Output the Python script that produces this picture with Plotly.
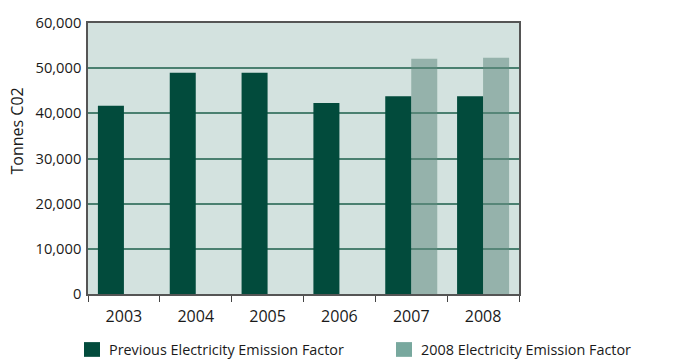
import plotly.graph_objects as go

# Chart data
years = ["2003", "2004", "2005", "2006", "2007", "2008"]
series_names = ["Previous Electricity Emission Factor", "2008 Electricity Emission Factor"]
previous_factor = [41700, 49000, 49000, 42300, 43800, 43800]
factor_2008 = [None, None, None, None, 52100, 52300]
y_ticks = [0, 10000, 20000, 30000, 40000, 50000, 60000]

DARK = "#024b3c"
LIGHT_BAR = "rgba(98,139,128,0.55)"
LIGHT_KEY = "#78a89e"
FONT = "Open Sans"

fig = go.Figure()
fig.add_trace(go.Bar(x=years, y=previous_factor, name=series_names[0],
                     marker=dict(color=DARK, line=dict(width=0)), showlegend=False))
fig.add_trace(go.Bar(x=years, y=factor_2008, name=series_names[1],
                     marker=dict(color=LIGHT_BAR, line=dict(width=0)), showlegend=False))

L, R, T, B = 88, 156, 18, 67
W, H = 675, 361
pw, ph = W - L - R, H - T - B


def px_x(x):
    return (x - L) / pw


def px_y(y):
    return (H - B - y) / ph


fig.update_layout(
    width=W, height=H,
    margin=dict(l=L, r=R, t=T, b=B, pad=0),
    paper_bgcolor="white",
    plot_bgcolor="#d3e2df",
    barmode="group",
    bargap=0.276,
    bargroupgap=0,
    font=dict(family=FONT, size=16, color="#1a1a1a"),
    xaxis=dict(
        type="category",
        showgrid=False,
        ticks="outside", tickson="boundaries", ticklen=6, tickwidth=1.2,
        tickcolor="#444",
        showline=True, linecolor="#555", linewidth=1.5, mirror=True,
        tickfont=dict(size=16),
        ticklabelstandoff=7,
    ),
    yaxis=dict(
        range=[0, 60000],
        tickvals=y_ticks,
        tickformat=",d",
        showgrid=True, gridcolor="#4a8070", gridwidth=1.6,
        zeroline=False,
        ticks="",
        showline=True, linecolor="#555", linewidth=1.5, mirror=True,
        tickfont=dict(size=14.7),
        ticklabelstandoff=2,
    ),
)

# Vertical axis title, set slightly above centre
fig.add_annotation(text="Tonnes C02", textangle=-90, xref="paper", yref="paper",
                   x=px_x(17), y=px_y(128.5), showarrow=False,
                   xanchor="center", yanchor="middle",
                   font=dict(family=FONT, size=16, color="#1a1a1a"))

# Legend key below the plot
keys = [(84, DARK, series_names[0]), (396, LIGHT_KEY, series_names[1])]
for x0, color, label in keys:
    fig.add_shape(type="rect", xref="paper", yref="paper",
                  x0=px_x(x0), x1=px_x(x0 + 16), y0=px_y(343), y1=px_y(358),
                  fillcolor=color, line=dict(width=0))
    fig.add_annotation(text=label, xref="paper", yref="paper",
                       x=px_x(x0 + 23), y=px_y(351), showarrow=False,
                       xanchor="left", yanchor="middle",
                       font=dict(family=FONT, size=14.4, color="#1a1a1a"))

fig.write_html("out.html")
